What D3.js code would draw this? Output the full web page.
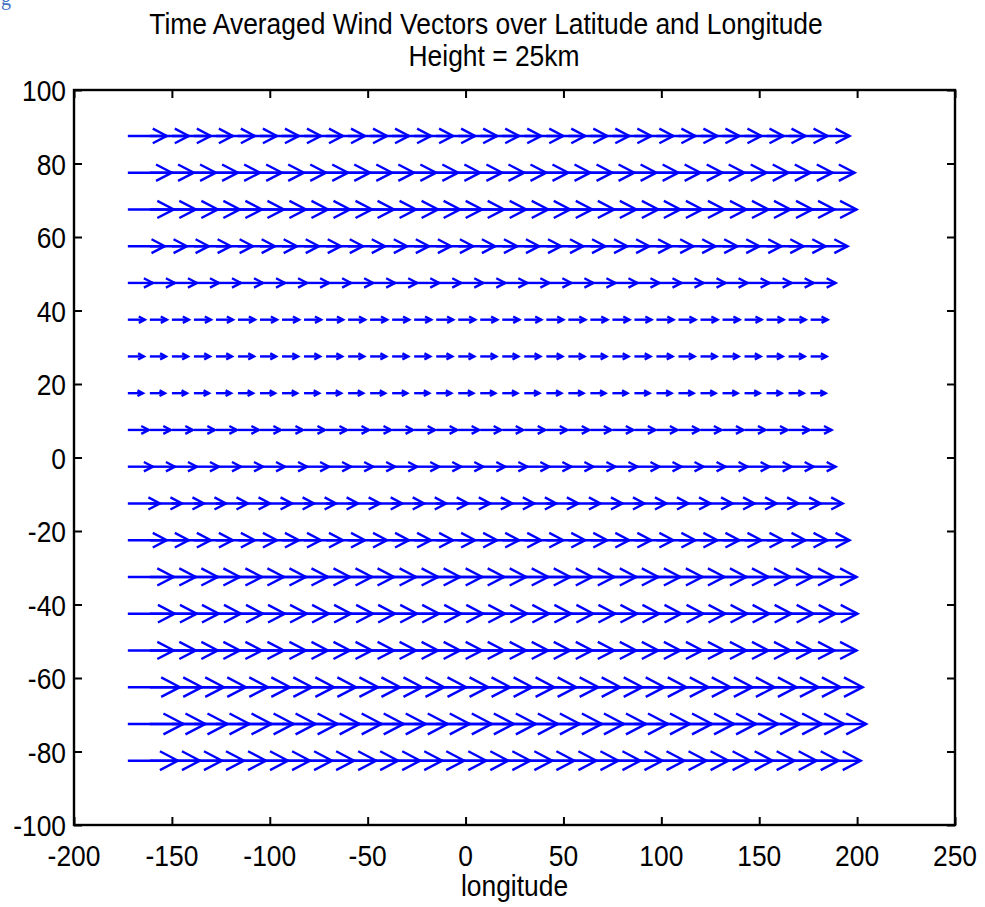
<!DOCTYPE html>
<html>
<head>
<meta charset="utf-8">
<script src="https://cdn.jsdelivr.net/npm/d3@7"></script>
<style>
  html, body { margin: 0; padding: 0; background: #fff; }
  svg { display: block; }
  text { font-family: "Liberation Sans", Arial, Helvetica, sans-serif; fill: #000; }
</style>
</head>
<body>
<script>
// Grid of longitudes (degrees east) where vectors are anchored
const longitudes = [-172.5, -161.25, -150, -138.75, -127.5, -116.25, -105, -93.75,
  -82.5, -71.25, -60, -48.75, -37.5, -26.25, -15, -3.75,
  7.5, 18.75, 30, 41.25, 52.5, 63.75, 75, 86.25,
  97.5, 108.75, 120, 131.25, 142.5, 153.75, 165, 176.25];

// Grid of latitudes (degrees north)
const latitudes = [87.5, 77.5, 67.5, 57.5, 47.5, 37.5, 27.5, 17.5, 7.5,
  -2.5, -12.5, -22.5, -32.5, -42.5, -52.5, -62.5, -72.5, -82.5];

// Time-averaged zonal wind per latitude band (scaled vector length, degrees of longitude)
const uWind = [19.9, 22.5, 23.5, 18.9, 12.8, 8.7, 8.2, 7.7, 10.7,
  12.8, 16.4, 19.9, 23.5, 24.0, 23.5, 26.6, 28.4, 25.6];

// Meridional wind per latitude band (negligible at this height)
const vWind = [0, 0, 0, 0, 0, 0, 0, 0, 0, 0, 0, 0, 0, 0, 0, 0, 0, 0];

const xTicks = [-200, -150, -100, -50, 0, 50, 100, 150, 200, 250];
const yTicks = [-100, -80, -60, -40, -20, 0, 20, 40, 60, 80, 100];

const W = 985, H = 907;
const plot = { left: 74, right: 955, top: 90, bottom: 825 };
const fontSize = 30, squeeze = 0.88;   // tall, slightly condensed lettering

const svg = d3.select("body").append("svg")
  .attr("width", W).attr("height", H);

const x = d3.scaleLinear().domain([-200, 250]).range([plot.left, plot.right]);
const y = d3.scaleLinear().domain([-100, 100]).range([plot.bottom, plot.top]);

// condensed text helper: positioned by translate, squeezed horizontally
function label(px, py, str, anchor, baseline) {
  return svg.append("text")
    .attr("transform", `translate(${px},${py}) scale(${squeeze},1)`)
    .attr("text-anchor", anchor || "middle")
    .attr("dominant-baseline", baseline || "auto")
    .style("font-size", fontSize + "px")
    .text(str);
}

// stray caption fragment at the very top-left
svg.append("text").attr("x", 1).attr("y", 5)
  .style("font-family", "'Liberation Serif', serif").style("font-size", "20px")
  .style("fill", "#4472c4").text("g");

// Titles
label(486, 34, "Time Averaged Wind Vectors over Latitude and Longitude");
label(494, 66, "Height = 25km");

// Vectors
const vectors = [];
latitudes.forEach((lat, i) => {
  longitudes.forEach(lon => {
    vectors.push({ lon, lat, u: uWind[i], v: vWind[i] });
  });
});

const alpha = 0.36, beta = 0.52;
const arrows = svg.append("g")
  .attr("fill", "none").attr("stroke", "#0000ff")
  .attr("stroke-width", 2.4).attr("stroke-linejoin", "miter").attr("stroke-linecap", "butt");

vectors.forEach(d => {
  const x0 = x(d.lon), y0 = y(d.lat);
  const x1 = x(d.lon + d.u), y1 = y(d.lat + d.v);
  const dx = x1 - x0, dy = y1 - y0;
  const len = Math.hypot(dx, dy);
  const ux = dx / len, uy = dy / len;
  const back = alpha * len, half = alpha * beta * len;
  const bx = x1 - ux * back, by = y1 - uy * back;
  arrows.append("line").attr("x1", x0).attr("y1", y0).attr("x2", x1).attr("y2", y1);
  arrows.append("polyline").attr("points", [
    [bx - uy * half, by + ux * half],
    [x1, y1],
    [bx + uy * half, by - ux * half]
  ].map(p => p.join(",")).join(" "));
});

// Axes box with inward ticks on all sides
const tickLen = 8;
const axisG = svg.append("g");
const mk = (axis, scale, vals) => axis(scale).tickValues(vals).tickSize(-tickLen).tickFormat("");
const styleAxis = g => {
  g.select(".domain").remove();
  g.selectAll(".tick line").attr("stroke", "#000").attr("stroke-width", 2);
};
axisG.append("g").attr("transform", `translate(0,${plot.bottom})`).call(mk(d3.axisBottom, x, xTicks)).call(styleAxis);
axisG.append("g").attr("transform", `translate(0,${plot.top})`).call(mk(d3.axisTop, x, xTicks)).call(styleAxis);
axisG.append("g").attr("transform", `translate(${plot.left},0)`).call(mk(d3.axisLeft, y, yTicks)).call(styleAxis);
axisG.append("g").attr("transform", `translate(${plot.right},0)`).call(mk(d3.axisRight, y, yTicks)).call(styleAxis);
svg.append("rect").attr("x", plot.left).attr("y", plot.top)
  .attr("width", plot.right - plot.left).attr("height", plot.bottom - plot.top)
  .attr("fill", "none").attr("stroke", "#000").attr("stroke-width", 2.4);

// Tick labels (plain hyphen minus)
xTicks.forEach(t => label(x(t), 866, String(t)));
yTicks.forEach(t => label(plot.left - 8, y(t) + 11, String(t), "end"));

// X axis label
label((plot.left + plot.right) / 2, 896, "longitude");
</script>
</body>
</html>
